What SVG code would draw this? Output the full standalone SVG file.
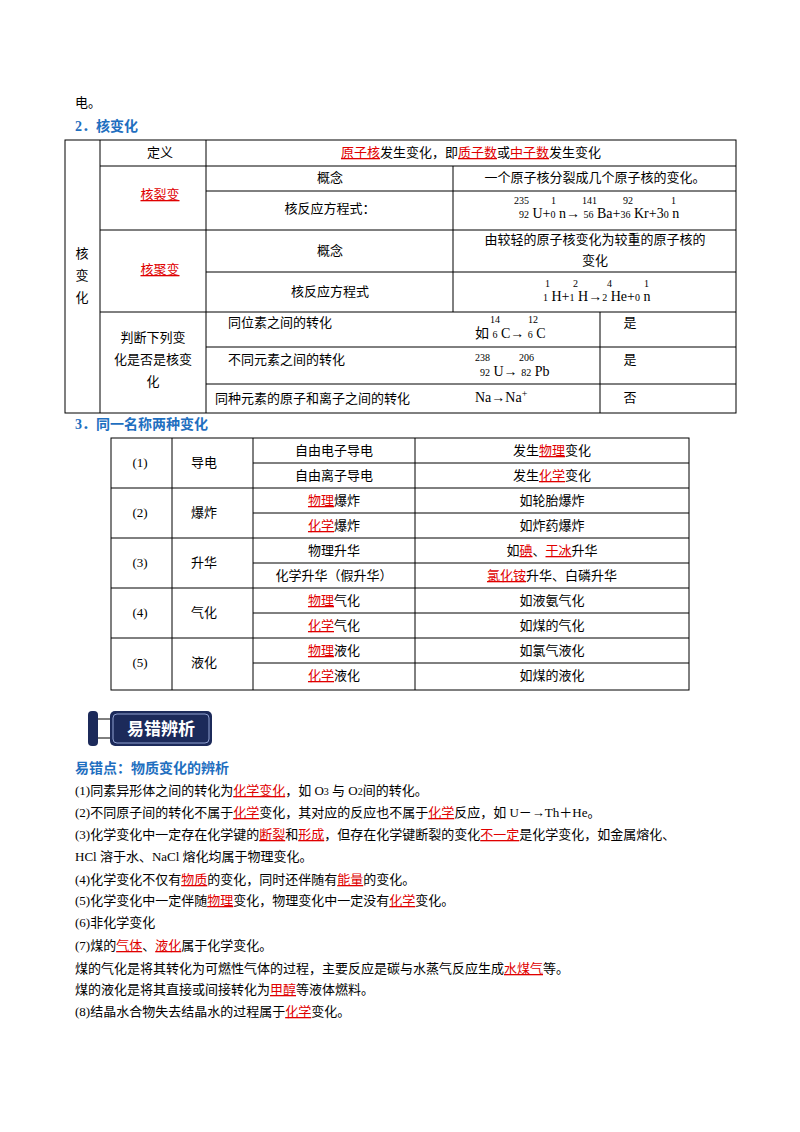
<svg xmlns="http://www.w3.org/2000/svg" width="800" height="1132" viewBox="0 0 800 1132">
<style>
text{font-family:"Liberation Serif","Noto Sans CJK SC",serif;font-size:13px;fill:#000}
.c{text-anchor:middle}
.r{fill:#e00000;text-decoration:underline}
.h{fill:#1f6fc0;font-weight:bold;font-size:14px}
.s{font-size:10px}
.eq{font-size:14px}
line{stroke:#000;stroke-width:1}
</style>
<rect width="800" height="1132" fill="#fff"/>
<text x="75" y="107">电。</text>
<text x="75" y="131" class="h">2．核变化</text>
<g id="table1">
<rect x="65" y="140" width="671" height="273" fill="none" stroke="#000"/>
<line x1="100" y1="140" x2="100" y2="413"/>
<line x1="206" y1="140" x2="206" y2="413"/>
<line x1="453" y1="166" x2="453" y2="312"/>
<line x1="600" y1="312" x2="600" y2="413"/>
<line x1="100" y1="166" x2="736" y2="166"/>
<line x1="206" y1="191" x2="736" y2="191"/>
<line x1="100" y1="230" x2="736" y2="230"/>
<line x1="206" y1="272" x2="736" y2="272"/>
<line x1="100" y1="312" x2="736" y2="312"/>
<line x1="206" y1="347" x2="736" y2="347"/>
<line x1="206" y1="384" x2="736" y2="384"/>
<text x="82" y="258" class="c">核</text><text x="82" y="280" class="c">变</text><text x="82" y="302" class="c">化</text>
<text x="160" y="157" class="c">定义</text>
<text x="471" y="157" class="c"><tspan class="r">原子核</tspan>发生变化，即<tspan class="r">质子数</tspan>或<tspan class="r">中子数</tspan>发生变化</text>
<text x="160" y="199" class="c r">核裂变</text>
<text x="330" y="182" class="c">概念</text>
<text x="595" y="182" class="c">一个原子核分裂成几个原子核的变化。</text>
<text x="330" y="213" class="c">核反应方程式：</text>
<text x="514" y="204" class="s">235</text><text x="551" y="204" class="s">1</text><text x="582" y="204" class="s">141</text><text x="623" y="204" class="s">92</text><text x="671" y="204" class="s">1</text>
<text x="519" y="218" class="eq"><tspan class="s">92</tspan> U+<tspan class="s">0</tspan> n→ <tspan class="s">56</tspan> Ba+<tspan class="s">36</tspan> Kr+3<tspan class="s">0</tspan> n</text>
<text x="160" y="274" class="c r">核聚变</text>
<text x="330" y="255" class="c">概念</text>
<text x="595" y="244" class="c" fill="#333">由较轻的原子核变化为较重的原子核的</text>
<text x="595" y="265" class="c" fill="#333">变化</text>
<text x="330" y="296" class="c">核反应方程式</text>
<text x="545" y="287" class="s">1</text><text x="573" y="287" class="s">2</text><text x="607" y="287" class="s">4</text><text x="644" y="287" class="s">1</text>
<text x="543" y="301" class="eq"><tspan class="s">1</tspan> H+<tspan class="s">1</tspan> H→<tspan class="s">2</tspan> He+<tspan class="s">0</tspan> n</text>
<text x="153" y="342" class="c">判断下列变</text>
<text x="153" y="364" class="c">化是否是核变</text>
<text x="153" y="386" class="c">化</text>
<text x="228" y="327">同位素之间的转化</text>
<text x="228" y="364">不同元素之间的转化</text>
<text x="215" y="403">同种元素的原子和离子之间的转化</text>
<text x="490" y="323" class="s">14</text><text x="528" y="323" class="s">12</text>
<text x="475" y="338" class="eq">如 <tspan class="s">6</tspan> C→ <tspan class="s">6</tspan> C</text>
<text x="475" y="361" class="s">238</text><text x="519" y="361" class="s">206</text>
<text x="480" y="376" class="eq"><tspan class="s">92</tspan> U→ <tspan class="s">82</tspan> Pb</text>
<text x="475" y="402" class="eq">Na→Na<tspan class="s" dy="-5">+</tspan></text>
<text x="630" y="327" class="c">是</text>
<text x="630" y="364" class="c">是</text>
<text x="630" y="402" class="c">否</text>
</g>
<text x="75" y="429" class="h">3．同一名称两种变化</text>
<g id="table2">
<rect x="111" y="438" width="578" height="252" fill="none" stroke="#000"/>
<line x1="172" y1="438" x2="172" y2="690"/>
<line x1="253" y1="438" x2="253" y2="690"/>
<line x1="415" y1="438" x2="415" y2="690"/>
<line x1="253" y1="463" x2="689" y2="463"/>
<line x1="111" y1="488" x2="689" y2="488"/>
<line x1="253" y1="513" x2="689" y2="513"/>
<line x1="111" y1="538" x2="689" y2="538"/>
<line x1="253" y1="563" x2="689" y2="563"/>
<line x1="111" y1="588" x2="689" y2="588"/>
<line x1="253" y1="613" x2="689" y2="613"/>
<line x1="111" y1="638" x2="689" y2="638"/>
<line x1="253" y1="663" x2="689" y2="663"/>
<text x="140" y="467" class="c">(1)</text><text x="204" y="467" class="c">导电</text>
<text x="140" y="517" class="c">(2)</text><text x="204" y="517" class="c">爆炸</text>
<text x="140" y="567" class="c">(3)</text><text x="204" y="567" class="c">升华</text>
<text x="140" y="617" class="c">(4)</text><text x="204" y="617" class="c">气化</text>
<text x="140" y="667" class="c">(5)</text><text x="204" y="667" class="c">液化</text>
<text x="334" y="455" class="c">自由电子导电</text>
<text x="334" y="480" class="c">自由离子导电</text>
<text x="334" y="505" class="c"><tspan class="r">物理</tspan>爆炸</text>
<text x="334" y="530" class="c"><tspan class="r">化学</tspan>爆炸</text>
<text x="334" y="555" class="c">物理升华</text>
<text x="334" y="580" class="c">化学升华（假升华）</text>
<text x="334" y="605" class="c"><tspan class="r">物理</tspan>气化</text>
<text x="334" y="630" class="c"><tspan class="r">化学</tspan>气化</text>
<text x="334" y="655" class="c"><tspan class="r">物理</tspan>液化</text>
<text x="334" y="680" class="c"><tspan class="r">化学</tspan>液化</text>
<text x="552" y="455" class="c">发生<tspan class="r">物理</tspan>变化</text>
<text x="552" y="480" class="c">发生<tspan class="r">化学</tspan>变化</text>
<text x="552" y="505" class="c">如轮胎爆炸</text>
<text x="552" y="530" class="c">如炸药爆炸</text>
<text x="552" y="555" class="c">如<tspan class="r">碘</tspan>、<tspan class="r">干冰</tspan>升华</text>
<text x="552" y="580" class="c"><tspan class="r">氯化铵</tspan>升华、白磷升华</text>
<text x="552" y="605" class="c">如液氨气化</text>
<text x="552" y="630" class="c">如煤的气化</text>
<text x="552" y="655" class="c">如氯气液化</text>
<text x="552" y="680" class="c">如煤的液化</text>
</g>
<g id="banner">
<rect x="88" y="711" width="10" height="35" rx="4" fill="#1c2a5a"/>
<line x1="98" y1="719" x2="112" y2="719" stroke="#1c2a5a" stroke-width="3"/>
<line x1="98" y1="738" x2="112" y2="738" stroke="#1c2a5a" stroke-width="3"/>
<rect x="110" y="711" width="102" height="35" rx="5" fill="#1c2a5a"/>
<rect x="113" y="714" width="96" height="29" rx="4" fill="none" stroke="#8fa0d0" stroke-width="1"/>
<text x="161" y="735" class="c" style="fill:#fff;font-family:'Noto Sans CJK SC',sans-serif;font-size:17px;font-weight:bold">易错辨析</text>
</g>
<text x="75" y="773" class="h">易错点：物质变化的辨析</text>
<text x="75" y="795">(1)同素异形体之间的转化为<tspan class="r">化学变化</tspan>，如 O<tspan class="s">3</tspan> 与 O<tspan class="s">2</tspan>间的转化。</text>
<text x="75" y="817">(2)不同原子间的转化不属于<tspan class="r">化学</tspan>变化，其对应的反应也不属于<tspan class="r">化学</tspan>反应，如 U－→Th＋He。</text>
<text x="75" y="839">(3)化学变化中一定存在化学键的<tspan class="r">断裂</tspan>和<tspan class="r">形成</tspan>，但存在化学键断裂的变化<tspan class="r">不一定</tspan>是化学变化，如金属熔化、</text>
<text x="75" y="861">HCl 溶于水、NaCl 熔化均属于物理变化。</text>
<text x="75" y="884">(4)化学变化不仅有<tspan class="r">物质</tspan>的变化，同时还伴随有<tspan class="r">能量</tspan>的变化。</text>
<text x="75" y="905">(5)化学变化中一定伴随<tspan class="r">物理</tspan>变化，物理变化中一定没有<tspan class="r">化学</tspan>变化。</text>
<text x="75" y="927">(6)非化学变化</text>
<text x="75" y="950">(7)煤的<tspan class="r">气体</tspan>、<tspan class="r">液化</tspan>属于化学变化。</text>
<text x="75" y="973">煤的气化是将其转化为可燃性气体的过程，主要反应是碳与水蒸气反应生成<tspan class="r">水煤气</tspan>等。</text>
<text x="75" y="994">煤的液化是将其直接或间接转化为<tspan class="r">甲醇</tspan>等液体燃料。</text>
<text x="75" y="1016">(8)结晶水合物失去结晶水的过程属于<tspan class="r">化学</tspan>变化。</text>
</svg>
